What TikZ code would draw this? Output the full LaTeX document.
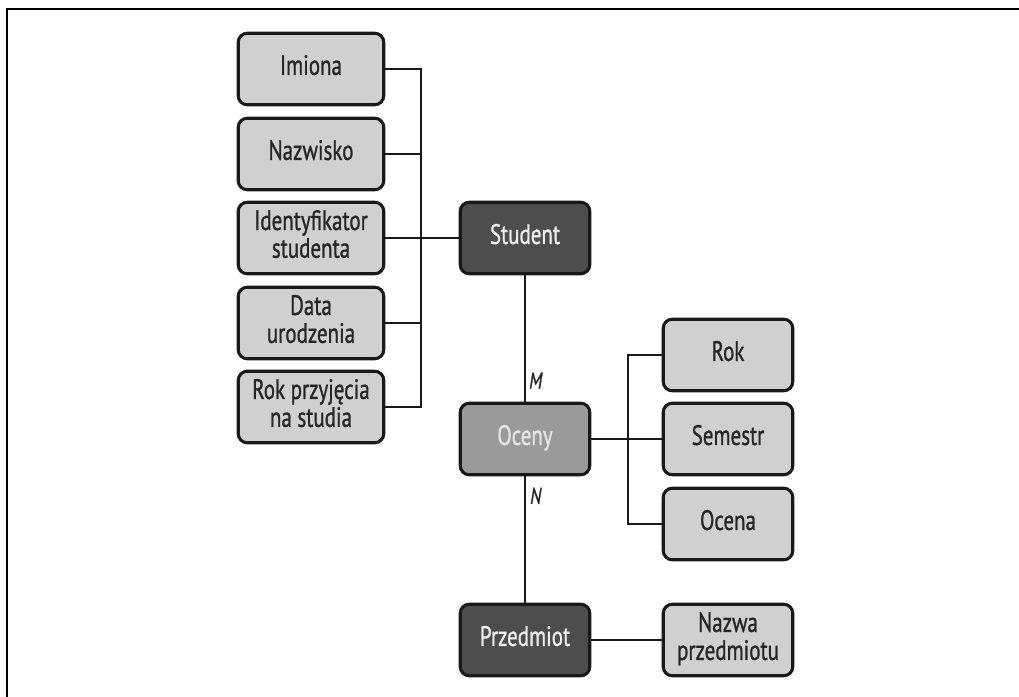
\documentclass[tikz,border=0pt]{standalone}
\usepackage{fontspec}
\usepackage{graphicx}
\setmainfont{PT Sans}
\newfontfamily\boxfont{PT Sans}[FakeBold=1.2]
\newcommand{\bt}[1]{\scalebox{0.75}[1]{\begin{tabular}{@{}c@{}}#1\end{tabular}}}
\definecolor{lightbox}{HTML}{D0D0D0}
\definecolor{darkbox}{HTML}{4D4D4D}
\definecolor{midbox}{HTML}{9A9A9A}
\begin{document}
\begin{tikzpicture}[x=1pt,y=-1pt,
  box/.style={draw=black!90,line width=3.1pt,rounded corners=9pt,align=center,
    inner sep=0pt,font=\boxfont\fontsize{28}{27}\selectfont,minimum height=71.5},
  attr/.style={box,fill=lightbox,text=black!85},
  attrL/.style={attr,minimum width=145.5},
  attrR/.style={attr,minimum width=129.5},
  entity/.style={box,fill=darkbox,text=white!93!black,minimum width=129.5},
  assoc/.style={box,fill=midbox,text=white!90!black,minimum width=129.5},
  conn/.style={line width=2.5pt,black!90},
  card/.style={font=\boxfont\fontsize{23}{23}\selectfont\itshape,inner sep=0pt,text=black!85}]
\useasboundingbox (0,0) rectangle (1019,696);
\draw[line width=2.2pt] (1030,9) -- (7,9) -- (7,710);

\node[attrL] (imiona) at (311,69) {\bt{Imiona}};
\node[attrL] (nazw) at (311,154) {\bt{Nazwisko}};
\node[attrL] (ident) at (311,238) {\bt{Identyfikator\\studenta}};
\node[attrL] (data) at (311,323) {\bt{Data\\urodzenia}};
\node[attrL] (rokp) at (311,407) {\bt{Rok przyjęcia\\na studia}};

\node[entity] (student) at (525,238) {\bt{Student}};
\node[assoc] (oceny) at (525,439) {\bt{Oceny}};
\node[entity] (przed) at (525,640) {\bt{Przedmiot}};

\node[attrR] (rok) at (728,355) {\bt{Rok}};
\node[attrR] (sem) at (728,439) {\bt{Semestr}};
\node[attrR] (ocena) at (728,524) {\bt{Ocena}};
\node[attrR] (nazwp) at (728,640) {\bt{Nazwa\\przedmiotu}};

\coordinate (bl) at (421,0);
\coordinate (br) at (628,0);

\draw[conn] (imiona.east) -- (imiona.east -| bl) -- (rokp.east -| bl) -- (rokp.east);
\draw[conn] (nazw.east) -- (nazw.east -| bl);
\draw[conn] (data.east) -- (data.east -| bl);
\draw[conn] (ident.east) -- (student.west);

\draw[conn] (rok.west) -- (rok.west -| br) -- (ocena.west -| br) -- (ocena.west);
\draw[conn] (oceny.east) -- (sem.west);

\draw[conn] (student.south) -- (oceny.north);
\draw[conn] (oceny.south) -- (przed.north);
\draw[conn] (przed.east) -- (nazwp.west);

\node[card,anchor=south west] (m) at ([xshift=4pt,yshift=6pt]oceny.north) {\bt{M}};
\node[card,anchor=north west] (n) at ([xshift=5pt,yshift=-11pt]oceny.south) {\bt{N}};
\end{tikzpicture}
\end{document}
